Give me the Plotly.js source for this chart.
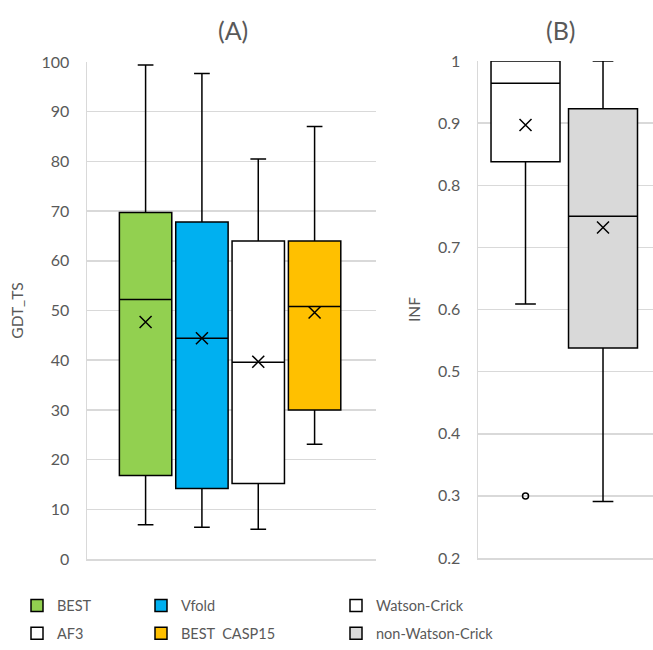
<!DOCTYPE html>
<html>
<head>
<meta charset="utf-8">
<script src="https://cdn.plot.ly/plotly-3.0.1.min.js"></script>
<style>html,body{margin:0;padding:0;background:#fff;}#chart{width:653px;height:650px;}</style>
</head>
<body>
<div id="chart"></div>
<script>
// Panel A: GDT_TS
const catsA = ['BEST', 'Vfold', 'AF3', 'BEST\u00a0\u00a0CASP15'];
const q1A = [16.8, 14.2, 15.2, 30.0];
const medA = [52.2, 44.4, 39.6, 50.8];
const q3A = [69.7, 67.8, 64.0, 64.0];
const lowA = [6.9, 6.4, 6.0, 23.1];
const upA = [99.4, 97.7, 80.5, 87.0];
const meanA = [47.7, 44.4, 39.7, 49.6];

// Panel B: INF
const catsB = ['Watson-Crick', 'non-Watson-Crick'];
const q1B = [0.838, 0.538];
const medB = [0.964, 0.750];
const q3B = [1.0, 0.923];
const lowB = [0.609, 0.291];
const upB = [1.0, 1.0];
const meanB = [0.897, 0.732];
const outlierCat = ['Watson-Crick'];
const outlierVal = [0.30];

const colorsA = ['#92D050', '#00B0F0', '#FFFFFF', '#FFC000'];
const legendsA = ['legend', 'legend2', 'legend', 'legend2'];
const colorsB = ['#FFFFFF', '#D9D9D9'];
const FONT = 'Lato, "Open Sans", sans-serif';
const GREY = '#595959';

const data = [];
catsA.forEach((c, i) => {
  data.push({
    type: 'box', xaxis: 'x', yaxis: 'y', x: [c],
    q1: [q1A[i]], median: [medA[i]], q3: [q3A[i]],
    lowerfence: [lowA[i]], upperfence: [upA[i]],
    name: c, fillcolor: colorsA[i], line: {color: '#000', width: 1.5},
    width: 0.93, whiskerwidth: 0.3, boxpoints: false,
    legend: legendsA[i], legendgroup: 'g' + i
  });
});
catsB.forEach((c, i) => {
  data.push({
    type: 'box', xaxis: 'x2', yaxis: 'y2', x: [c],
    q1: [q1B[i]], median: [medB[i]], q3: [q3B[i]],
    lowerfence: [lowB[i]], upperfence: [upB[i]],
    name: c, fillcolor: colorsB[i], line: {color: '#000', width: 1.5},
    width: 0.89, whiskerwidth: 0.3, boxpoints: false,
    legend: 'legend3', legendgroup: 'h' + i
  });
});
data.push({type: 'scatter', mode: 'markers', xaxis: 'x', yaxis: 'y', x: catsA, y: meanA,
  marker: {symbol: 'x-thin-open', size: 12, color: '#000', line: {color: '#000', width: 1.5}},
  showlegend: false, hoverinfo: 'y'});
data.push({type: 'scatter', mode: 'markers', xaxis: 'x2', yaxis: 'y2', x: catsB, y: meanB,
  marker: {symbol: 'x-thin-open', size: 12, color: '#000', line: {color: '#000', width: 1.5}},
  showlegend: false, hoverinfo: 'y'});
data.push({type: 'scatter', mode: 'markers', xaxis: 'x2', yaxis: 'y2', x: outlierCat, y: outlierVal,
  marker: {symbol: 'circle-open', size: 6, color: '#000', line: {color: '#000', width: 1.5}},
  showlegend: false, hoverinfo: 'y'});

const legendBase = {
  orientation: 'v', xanchor: 'left', yanchor: 'top', y: 0.093,
  font: {family: FONT, size: 14.5, color: GREY}, bgcolor: 'rgba(0,0,0,0)',
  tracegroupgap: 6, traceorder: 'grouped', itemclick: false
};

const layout = {
  width: 653, height: 650,
  margin: {l: 0, r: 0, t: 0, b: 0},
  paper_bgcolor: '#fff', plot_bgcolor: '#fff',
  font: {family: FONT, color: GREY},
  showlegend: true,
  boxmode: 'overlay',
  xaxis: {domain: [87/653, 376/653], type: 'category', categoryorder: 'array', categoryarray: catsA,
    range: [-1.04, 4.09], showticklabels: false, ticks: '', showgrid: false, zeroline: false,
    showline: true, linecolor: '#D9D9D9', linewidth: 1.5, fixedrange: true},
  yaxis: {domain: [1 - 559/650, 1 - 62/650], anchor: 'x', range: [0, 100], dtick: 10,
    showgrid: true, gridcolor: '#D9D9D9', gridwidth: 1.5, zeroline: false,
    showline: true, linecolor: '#D9D9D9', linewidth: 1.5, ticks: '', ticklabelstandoff: 13,
    tickfont: {family: FONT, size: 16, color: GREY},
    title: {text: 'GDT_TS', font: {family: FONT, size: 15.5, color: GREY}, standoff: 14}},
  xaxis2: {domain: [478/653, 1], anchor: 'y2', type: 'category', categoryorder: 'array', categoryarray: catsB,
    range: [-0.613, 1.645], showticklabels: false, ticks: '', showgrid: false, zeroline: false,
    showline: true, linecolor: '#D9D9D9', linewidth: 1.5, fixedrange: true},
  yaxis2: {domain: [1 - 558/650, 1 - 61/650], anchor: 'x2', range: [0.2, 1], dtick: 0.1,
    showgrid: true, gridcolor: '#D9D9D9', gridwidth: 1.5, zeroline: false,
    showline: true, linecolor: '#D9D9D9', linewidth: 1.5, ticks: '', ticklabelstandoff: 13,
    tickfont: {family: FONT, size: 16, color: GREY},
    title: {text: 'INF', font: {family: FONT, size: 15.5, color: GREY}, standoff: 13}},
  legend: Object.assign({}, legendBase, {x: 17/653}),
  legend2: Object.assign({}, legendBase, {x: 141/653}),
  legend3: Object.assign({}, legendBase, {x: 336/653}),
  annotations: [
    {text: '(A)', xref: 'paper', yref: 'paper', x: 233/653, y: 1 - 30/650, xanchor: 'center', yanchor: 'middle',
     showarrow: false, font: {family: FONT, size: 25, color: GREY}},
    {text: '(B)', xref: 'paper', yref: 'paper', x: 561/653, y: 1 - 30/650, xanchor: 'center', yanchor: 'middle',
     showarrow: false, font: {family: FONT, size: 25, color: GREY}}
  ]
};

Plotly.newPlot('chart', data, layout, {staticPlot: true, displayModeBar: false});
</script>
</body>
</html>
